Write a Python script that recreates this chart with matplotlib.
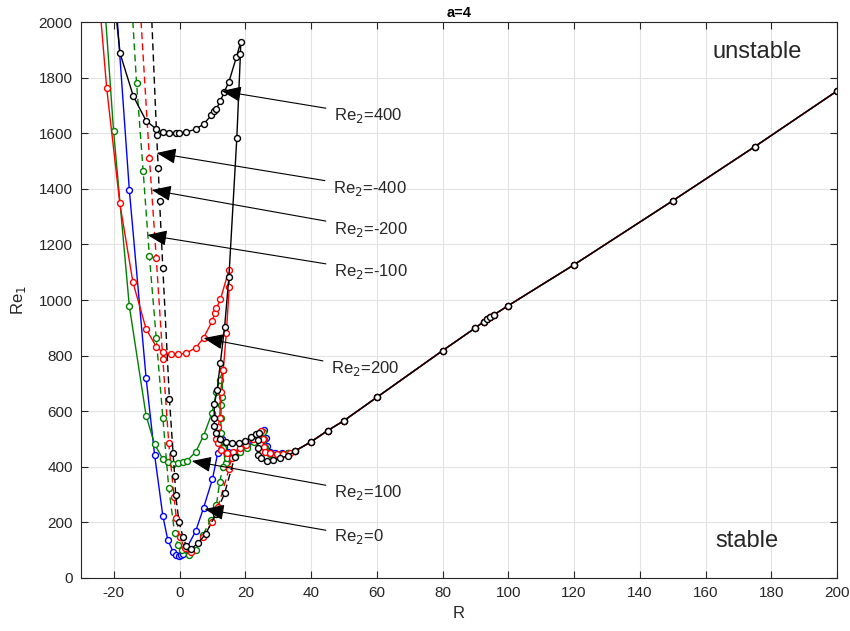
import numpy as np
import matplotlib.pyplot as plt

plt.rcParams['font.family'] = ['Liberation Sans', 'DejaVu Sans']
plt.rcParams['axes.unicode_minus'] = False

# ==========================================================
# DATA
# ==========================================================

# shared tail, R >= 35
tail_R = [35, 40, 45, 50, 60, 80, 90, 92.5, 93.5, 94.5, 95.5, 100, 120, 150, 175, 200]
tail_Re = [456, 490, 530, 566, 650, 818, 900, 922, 930, 938, 946, 980, 1127, 1357, 1552, 1752]

# Re2 = 0 (solid blue)
blue_R = [-20.4, -15.3, -10.2, -7.6, -5.1, -3.6, -2.0, -1.0, -0.3, 0.3, 1.0, 2.0, 4.9, 7.3,
          10.0, 11.6, 12.9, 13.6, 14.8, 16.5, 18.5, 20.5, 22.5, 24.5, 25.8, 26.2, 26.6,
          27.5, 29.0, 31.0, 33.0]
blue_Re = [2250, 1396, 720, 442, 223, 137, 95, 83, 80, 81, 86, 104, 169, 253,
           356, 450, 499, 470, 452, 450, 458, 475, 495, 515, 532, 505, 475,
           455, 450, 448, 450]

# Re2 = 100 (solid green)
green_R = [-23.5, -20.1, -15.3, -10.2, -7.6, -5.1, -3.6, -2.0, -0.5, 1.0, 2.3, 4.9, 7.3,
           9.9, 11.2, 12.2, 13.2, 12.9, 12.7, 12.5, 12.7, 13.2, 14.0, 15.3, 16.8, 18.5,
           20.5, 22.5, 24.3, 25.4, 25.7, 26.0, 26.5, 27.5, 29.0, 31.0, 33.0]
green_Re = [2180, 1609, 978, 584, 481, 428, 417, 410, 412, 416, 422, 454, 512,
            595, 670, 712, 748, 652, 622, 574, 520, 466, 415, 430, 439, 452,
            468, 488, 510, 526, 500, 470, 452, 446, 444, 446, 450]

# Re2 = 200 (solid red)
red_R = [-26.0, -22.2, -18.2, -14.2, -10.2, -7.1, -5.1, -2.5, -0.5, 1.8, 4.9, 7.3,
         9.9, 10.7, 11.2, 12.4, 15.0, 15.1, 14.2, 13.3, 12.5, 12.2, 11.7, 11.2, 11.7,
         12.7, 14.3, 16.3, 18.3, 20.3, 22.3, 23.8, 24.9, 25.3, 25.6, 26.0, 27.5, 29.5,
         31.5, 33.5]
red_Re = [2300, 1764, 1348, 1064, 896, 832, 812, 806, 806, 808, 828, 864,
          924, 952, 970, 1002, 1108, 1046, 880, 750, 670, 574, 544, 499, 484,
          460, 448, 454, 466, 480, 500, 518, 530, 500, 470, 454, 448, 446,
          447, 450]

# Re2 = 400 (solid black)
black_R = [-20.5, -18.1, -14.1, -10.2, -7.1, -5.1, -3.1, -1.0, -0.2, 1.8, 4.9, 7.3,
           9.7, 10.4, 11.2, 12.4, 13.6, 15.0, 17.3, 18.6, 18.5, 17.4, 15.0, 13.7,
           12.4, 11.4, 10.6, 10.5, 10.6, 11.0, 12.3, 14.0, 16.0, 18.0, 20.0, 21.8,
           23.2, 24.1, 23.9, 23.7, 23.9, 24.9, 26.5, 28.5, 30.5, 33.0]
black_Re = [2150, 1887, 1734, 1645, 1615, 1603, 1601, 1601, 1601, 1603, 1615, 1633,
            1665, 1680, 1689, 1716, 1749, 1785, 1875, 1929, 1884, 1582, 1084, 904,
            774, 676, 626, 575, 548, 520, 500, 490, 485, 486, 492, 506,
            518, 523, 496, 466, 442, 430, 422, 424, 430, 440]

# Re2 = -100 (dashed green)
gdash_R = [-15.5, -13.1, -11.1, -9.2, -7.1, -5.1, -3.3, -1.5, -0.5, 0.8, 2.8, 4.9,
           7.1, 9.5, 11.2, 12.2, 13.2, 14.5]
gdash_Re = [2250, 1781, 1465, 1158, 862, 577, 323, 161, 119, 100, 83, 100,
            155, 210, 263, 346, 400, 430]

# Re2 = -200 (dashed red)
rdash_R = [-12.5, -9.2, -7.1, -5.1, -3.3, -1.7, -1.0, 0.0, 1.5, 3.6, 7.1, 10.0,
           11.7, 15.0, 15.8]
rdash_Re = [2150, 1512, 1150, 787, 485, 292, 215, 149, 109, 95, 149, 203,
            256, 391, 432]

# Re2 = -400 (dashed black)
kdash_R = [-9.5, -7.0, -6.5, -6.1, -5.1, -3.1, -2.0, -1.5, -1.2, -0.2, 1.0, 2.0,
           3.5, 5.6, 8.0, 11.0, 13.7, 16.8]
kdash_Re = [2300, 1594, 1476, 1357, 1114, 644, 451, 368, 298, 203, 149, 116,
            105, 125, 160, 230, 305, 437]

# annotation labels: (label, text position, arrow head)
labels = ["Re$_2$=400", "Re$_2$=-400", "Re$_2$=-200", "Re$_2$=-100",
          "Re$_2$=200", "Re$_2$=100", "Re$_2$=0"]
label_xy = [(47.0, 1665), (46.7, 1403), (47.0, 1255), (47.0, 1104),
            (46.1, 752), (47.0, 306), (47.0, 151)]
head_xy = [(12.8, 1752), (-7.0, 1529), (-8.5, 1396), (-9.8, 1234),
           (7.3, 863), (3.7, 421), (7.6, 248)]

# ==========================================================
# PLOT
# ==========================================================

fig = plt.figure(figsize=(8.5, 6.31), dpi=100)
ax = fig.add_axes([0.0953, 0.084, 0.8894, 0.881])

mk = dict(marker="o", markersize=4.3, markerfacecolor="white", markeredgewidth=1.0, linewidth=1.0)


def curve(R, Re, color, ls="-", tail=True):
    R = list(R)
    Re = list(Re)
    if tail:
        R = R + tail_R
        Re = Re + tail_Re
    ax.plot(R, Re, color=color, linestyle=ls, markeredgecolor=color, **mk)


curve(blue_R, blue_Re, "blue")
curve(green_R, green_Re, "green")
curve(gdash_R, gdash_Re, "green", ls=(0, (5, 3)), tail=False)
curve(rdash_R, rdash_Re, "red", ls=(0, (5, 3)), tail=False)
curve(red_R, red_Re, "red")
curve(kdash_R, kdash_Re, "black", ls=(0, (5, 3)), tail=False)
curve(black_R, black_Re, "black")

for lab, txy, hxy in zip(labels, label_xy, head_xy):
    ax.annotate(lab, xy=hxy, xytext=txy, fontsize=12, ha="left", va="center",
                color="#262626",
                arrowprops=dict(arrowstyle="-|>,head_length=1.0,head_width=0.4",
                                color="black", lw=0.8, shrinkA=4, shrinkB=0))

ax.text(757 / 850, 1 - 52 / 631, "unstable", transform=fig.transFigure,
        fontsize=17, ha="center", va="center", color="#262626")
ax.text(747 / 850, 1 - 541 / 631, "stable", transform=fig.transFigure,
        fontsize=17, ha="center", va="center", color="#262626")

ax.set_xlim(-30, 200)
ax.set_ylim(0, 2000)
ax.set_xticks(np.arange(-20, 201, 20))
ax.set_yticks(np.arange(0, 2001, 200))
ax.grid(True, color="#e3e3e3", linewidth=0.8)
ax.set_axisbelow(True)
ax.tick_params(direction="in", top=True, right=True, length=5, labelsize=11,
               colors="#262626", pad=6)
for s in ax.spines.values():
    s.set_color("#262626")
    s.set_linewidth(0.8)

ax.set_xlabel("R", fontsize=12, color="#262626", labelpad=4)
ax.set_ylabel("Re$_1$", fontsize=12, color="#262626", labelpad=8)
ax.set_title("a=4", fontsize=10.5, fontweight="bold", pad=4)

fig.savefig("out.png", dpi=100)
